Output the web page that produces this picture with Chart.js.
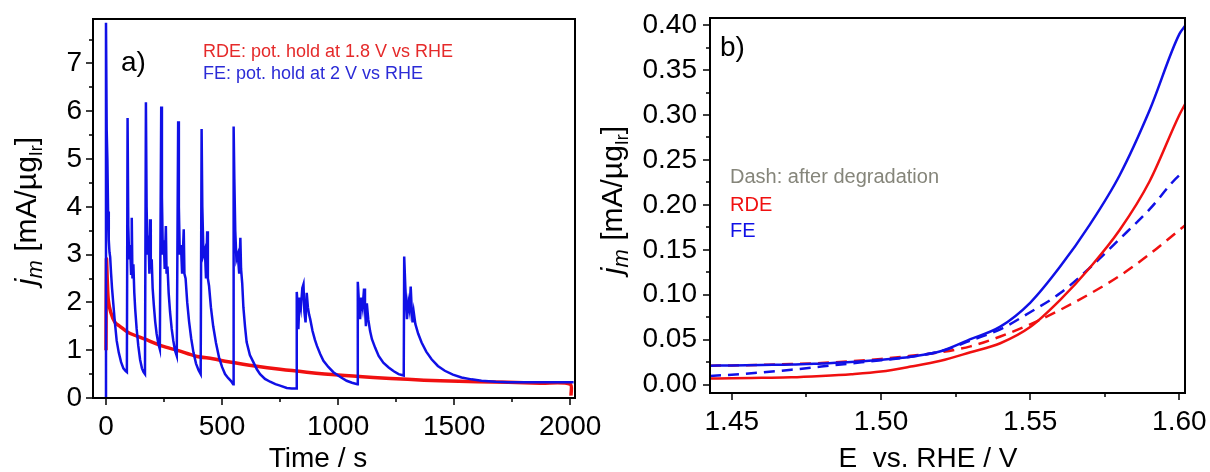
<!DOCTYPE html>
<html>
<head>
<meta charset="utf-8">
<script src="https://cdn.jsdelivr.net/npm/chart.js@4.4.0/dist/chart.umd.min.js"></script>
<style>
  html, body { margin: 0; padding: 0; background: #fff; }
  #wrapA { position: absolute; left: 0; top: 0; width: 610px; height: 472px; }
  #wrapB { position: absolute; left: 590px; top: 0; width: 620px; height: 472px; }
</style>
</head>
<body>
<div id="wrapA"><canvas id="chartA"></canvas></div>
<div id="wrapB"><canvas id="chartB"></canvas></div>
<script>
// panel a) potential hold, current vs time
const feTime = [0, 0, 3, 6, 9, 12, 15, 18, 22, 26, 31, 37, 46, 55, 65, 75, 85, 90,
  93, 96, 100, 104, 108, 111, 114, 118, 122, 126, 132, 139, 147, 155, 162, 168,
  172, 175, 179, 183, 187, 190, 193, 197, 201, 206, 212, 218, 225, 232,
  238, 241, 245, 249, 253, 258, 261, 265, 270, 276, 283, 290, 297, 305,
  311, 314, 318, 323, 328, 335, 338, 343, 350, 358, 367, 377, 388, 399, 408,
  412, 415, 420, 426, 431, 436, 439, 444, 452, 462, 474, 487, 500, 513, 526, 538, 548,
  550, 553, 557, 562, 568, 574, 579, 582, 587, 592, 599, 606, 620, 635, 650, 664, 685, 707, 730, 750, 779, 800, 820,
  822, 826, 829, 834, 840, 846, 851, 855, 860, 865, 870, 875, 880, 890, 900, 909, 923, 937, 958, 980, 1010, 1037, 1060, 1083,
  1085, 1090, 1095, 1100, 1106, 1112, 1116, 1120, 1124, 1130, 1138, 1146, 1160, 1175, 1195, 1218, 1240, 1261, 1283,
  1285, 1290, 1297, 1303, 1308, 1313, 1317, 1321, 1326, 1333, 1345, 1360, 1380, 1403, 1430, 1460, 1495, 1532, 1575, 1618, 1680, 1733, 1850, 1950, 2015];
const feCurrent = [0, 7.85, 5.6, 4.99, 3.9, 3.3, 3.05, 2.95, 2.6, 2.3, 2.0, 1.65, 1.2, 0.95, 0.75, 0.62, 0.56, 0.54,
  5.86, 3.6, 2.9, 3.2, 2.6, 3.77, 2.5, 2.8, 2.2, 1.85, 1.45, 1.1, 0.8, 0.62, 0.54, 0.5,
  6.19, 4.0, 3.0, 3.4, 2.6, 3.74, 2.7, 2.9, 2.3, 1.95, 1.6, 1.35, 1.15, 1.02,
  6.1, 4.2, 3.0, 3.3, 2.7, 3.6, 2.6, 2.75, 2.2, 1.8, 1.45, 1.2, 1.0, 0.88,
  5.79, 4.0, 3.0, 3.2, 2.6, 3.53, 2.6, 2.5, 2.0, 1.6, 1.25, 0.95, 0.72, 0.58, 0.5,
  5.63, 4.0, 3.0, 3.1, 2.5, 3.49, 2.5, 2.35, 1.9, 1.5, 1.15, 0.85, 0.65, 0.5, 0.42, 0.36, 0.29,
  5.68, 4.6, 3.5, 2.9, 3.0, 2.6, 3.35, 2.7, 2.4, 1.9, 1.5, 1.17, 0.9, 0.75, 0.6, 0.5, 0.4, 0.34, 0.29, 0.26, 0.21, 0.2, 0.2,
  2.22, 1.9, 1.44, 2.1, 1.9, 2.3, 2.38, 1.8, 1.58, 2.2, 1.9, 1.75, 1.65, 1.4, 1.22, 1.09, 0.92, 0.78, 0.65, 0.54, 0.44, 0.36, 0.32, 0.29,
  2.43, 2.0, 1.65, 2.1, 1.9, 2.29, 1.9, 1.5, 1.98, 1.65, 1.4, 1.23, 1.05, 0.88, 0.74, 0.64, 0.56, 0.5, 0.47,
  2.96, 2.3, 1.65, 2.0, 1.85, 2.33, 1.9, 1.58, 1.8, 1.55, 1.35, 1.16, 0.97, 0.81, 0.67, 0.57, 0.49, 0.43, 0.39, 0.36, 0.34, 0.33, 0.33, 0.33, 0.33];

const rdeTime = [0, 2, 6, 10, 20, 39, 60, 96, 168, 240, 312, 384, 460, 527, 642, 750, 865, 1000, 1152, 1300, 1440, 1600, 1733, 1870, 2000, 2004];
const rdeCurrent = [1.0, 2.9, 2.4, 2.05, 1.8, 1.58, 1.5, 1.37, 1.23, 1.09, 0.99, 0.88, 0.82, 0.76, 0.67, 0.6, 0.54, 0.48, 0.43, 0.39, 0.36, 0.34, 0.33, 0.31, 0.29, 0.05];

const timeTicks = [0, 500, 1000, 1500, 2000];
const timeMinor = [250, 750, 1250, 1750];
const currentTicksA = [0, 1, 2, 3, 4, 5, 6, 7];
const currentMinorA = [0.5, 1.5, 2.5, 3.5, 4.5, 5.5, 6.5, 7.5];

// panel b) polarisation curves, before (solid) and after (dashed) degradation
const potential = [1.4427, 1.45, 1.46, 1.47, 1.48, 1.49, 1.50, 1.51, 1.52, 1.53, 1.54, 1.55, 1.56, 1.57, 1.58, 1.59, 1.60, 1.6019];
const feFresh  = [0.021, 0.0213, 0.0218, 0.0222, 0.0235, 0.025, 0.0275, 0.031, 0.037, 0.0505, 0.0645, 0.091, 0.131, 0.178, 0.233, 0.305, 0.39, 0.399];
const rdeFresh = [0.0067, 0.007, 0.0075, 0.008, 0.0095, 0.0115, 0.0145, 0.02, 0.0265, 0.036, 0.046, 0.064, 0.094, 0.13, 0.172, 0.226, 0.3, 0.312];
const feAged   = [0.0096, 0.011, 0.0135, 0.0165, 0.02, 0.0235, 0.027, 0.031, 0.037, 0.049, 0.0615, 0.0805, 0.1015, 0.13, 0.162, 0.195, 0.233, 0.237];
const rdeAged  = [0.021, 0.0213, 0.022, 0.0228, 0.024, 0.026, 0.0285, 0.032, 0.036, 0.0425, 0.0535, 0.067, 0.083, 0.101, 0.121, 0.145, 0.172, 0.177];

const potentialTicks = [1.45, 1.50, 1.55, 1.60];
const potentialMinor = [1.475, 1.525, 1.575];
const currentTicksB = [0, 0.05, 0.10, 0.15, 0.20, 0.25, 0.30, 0.35, 0.40];
const currentMinorB = [0.025, 0.075, 0.125, 0.175, 0.225, 0.275, 0.325, 0.375];

const RED = "#f01010";
const BLUE = "#1010e6";
const FONT = "'Liberation Sans', Arial, sans-serif";

const toPoints = (xs, ys) => xs.map((x, i) => ({ x: x, y: ys[i] }));

// box around plot area + outward ticks (major and minor)
const frameTicks = {
  id: "frameTicks",
  afterDraw(chart, args, opts) {
    const { ctx, chartArea: a } = chart;
    const x = chart.scales.x, y = chart.scales.y;
    ctx.save();
    ctx.strokeStyle = "#000";
    ctx.lineWidth = 1.5;
    ctx.beginPath();
    opts.xMajor.forEach((v) => { const p = Math.round(x.getPixelForValue(v)); ctx.moveTo(p, a.bottom); ctx.lineTo(p, a.bottom + 7); });
    opts.xMinor.forEach((v) => { const p = Math.round(x.getPixelForValue(v)); ctx.moveTo(p, a.bottom); ctx.lineTo(p, a.bottom + 4); });
    opts.yMajor.forEach((v) => { const p = Math.round(y.getPixelForValue(v)); ctx.moveTo(a.left, p); ctx.lineTo(a.left - 7, p); });
    opts.yMinor.forEach((v) => { const p = Math.round(y.getPixelForValue(v)); if (p > a.top) { ctx.moveTo(a.left, p); ctx.lineTo(a.left - 4, p); } });
    ctx.stroke();
    ctx.lineWidth = 2;
    ctx.strokeRect(a.left, a.top, a.right - a.left, a.bottom - a.top);
    ctx.restore();
  }
};

// free texts: panel labels, legends, axis titles (y title with subscripts)
const texts = {
  id: "texts",
  afterDraw(chart, args, opts) {
    const ctx = chart.ctx;
    ctx.save();
    ctx.textBaseline = "alphabetic";
    opts.items.forEach((t) => {
      ctx.font = t.font;
      ctx.fillStyle = t.color;
      ctx.textAlign = t.align || "left";
      ctx.fillText(t.text, t.x, t.y);
    });
    // rotated y title: j_m [mA/µg_Ir]
    const parts = [
      { s: "j", f: "italic 30px " + FONT, dy: 0 },
      { s: "m", f: "italic 22px " + FONT, dy: 6 },
      { s: " [mA/µg", f: "30px " + FONT, dy: 0 },
      { s: "Ir", f: "18px " + FONT, dy: 6 },
      { s: "]", f: "30px " + FONT, dy: 0 }
    ];
    let total = 0;
    parts.forEach((p) => { ctx.font = p.f; p.w = ctx.measureText(p.s).width; total += p.w; });
    ctx.translate(opts.yTitle.x, opts.yTitle.y);
    ctx.rotate(-Math.PI / 2);
    ctx.fillStyle = "#000";
    ctx.textAlign = "left";
    let cx = -total / 2;
    parts.forEach((p) => { ctx.font = p.f; ctx.fillText(p.s, cx, p.dy); cx += p.w; });
    ctx.restore();
  }
};

function axes(xMin, xMax, xTicks, yMin, yMax, yTicks, yWidth, xHeight, xFmt, yFmt, yPad) {
  return {
    x: {
      type: "linear", min: xMin, max: xMax,
      grid: { display: false, drawTicks: false },
      border: { display: false },
      afterBuildTicks: (s) => { s.ticks = xTicks.map((v) => ({ value: v })); },
      afterFit: (s) => { s.height = xHeight; s.paddingLeft = 0; s.paddingRight = 0; },
      ticks: { autoSkip: false, maxRotation: 0, padding: 12, color: "#000", font: { family: FONT, size: 28 }, callback: xFmt }
    },
    y: {
      type: "linear", min: yMin, max: yMax,
      grid: { display: false, drawTicks: false },
      border: { display: false },
      afterBuildTicks: (s) => { s.ticks = yTicks.map((v) => ({ value: v })); },
      afterFit: (s) => { s.width = yWidth; s.paddingTop = 0; s.paddingBottom = 0; },
      ticks: { autoSkip: false, padding: yPad, color: "#000", font: { family: FONT, size: 28 }, callback: yFmt }
    }
  };
}

new Chart(document.getElementById("chartA"), {
  type: "line",
  data: {
    datasets: [
      { label: "FE", data: toPoints(feTime, feCurrent), borderColor: BLUE, borderWidth: 2.5, pointRadius: 0, tension: 0 },
      { label: "RDE", data: toPoints(rdeTime, rdeCurrent), borderColor: RED, borderWidth: 3.5, pointRadius: 0, tension: 0.3 }
    ]
  },
  options: {
    responsive: true, maintainAspectRatio: false, animation: false, devicePixelRatio: 1,
    layout: { padding: { top: 19, right: 35, left: 0, bottom: 0 } },
    scales: axes(-56, 2021, timeTicks, 0, 7.93, currentTicksA, 93, 74, (v) => String(v), (v) => String(v), 11),
    plugins: {
      legend: { display: false },
      tooltip: { enabled: false },
      frameTicks: { xMajor: timeTicks, xMinor: timeMinor, yMajor: currentTicksA, yMinor: currentMinorA },
      texts: {
        yTitle: { x: 36, y: 211 },
        items: [
          { text: "a)", x: 121, y: 71, font: "28px " + FONT, color: "#000" },
          { text: "RDE: pot. hold at 1.8 V vs RHE", x: 203, y: 57, font: "18px " + FONT, color: "#e52a2a" },
          { text: "FE: pot. hold at 2 V vs RHE", x: 203, y: 79, font: "18px " + FONT, color: "#2b2bd6" },
          { text: "Time / s", x: 318, y: 467, font: "28px " + FONT, color: "#000", align: "center" }
        ]
      }
    }
  },
  plugins: [frameTicks, texts]
});

new Chart(document.getElementById("chartB"), {
  type: "line",
  data: {
    datasets: [
      { label: "FE", data: toPoints(potential, feFresh), borderColor: BLUE, borderWidth: 2.5, pointRadius: 0, cubicInterpolationMode: "monotone" },
      { label: "RDE", data: toPoints(potential, rdeFresh), borderColor: RED, borderWidth: 2.5, pointRadius: 0, cubicInterpolationMode: "monotone" },
      { label: "FE after", data: toPoints(potential, feAged), borderColor: BLUE, borderWidth: 2.5, borderDash: [11, 7], pointRadius: 0, cubicInterpolationMode: "monotone" },
      { label: "RDE after", data: toPoints(potential, rdeAged), borderColor: RED, borderWidth: 2.5, borderDash: [11, 7], pointRadius: 0, cubicInterpolationMode: "monotone" }
    ]
  },
  options: {
    responsive: true, maintainAspectRatio: false, animation: false, devicePixelRatio: 1,
    layout: { padding: { top: 18, right: 25, left: 0, bottom: 0 } },
    scales: axes(1.4427, 1.6019, potentialTicks, -0.0094, 0.408, currentTicksB, 120, 79, (v) => v.toFixed(2), (v) => v.toFixed(2), 13),
    plugins: {
      legend: { display: false },
      tooltip: { enabled: false },
      frameTicks: { xMajor: potentialTicks, xMinor: potentialMinor, yMajor: currentTicksB, yMinor: currentMinorB },
      texts: {
        yTitle: { x: 32, y: 200 },
        items: [
          { text: "b)", x: 130, y: 56, font: "28px " + FONT, color: "#000" },
          { text: "Dash: after degradation", x: 140, y: 183, font: "20px " + FONT, color: "#85857a" },
          { text: "RDE", x: 140, y: 211, font: "20px " + FONT, color: RED },
          { text: "FE", x: 140, y: 237, font: "20px " + FONT, color: BLUE },
          { text: "E  vs. RHE / V", x: 338, y: 467, font: "28px " + FONT, color: "#000", align: "center" }
        ]
      }
    }
  },
  plugins: [frameTicks, texts]
});
</script>
</body>
</html>
